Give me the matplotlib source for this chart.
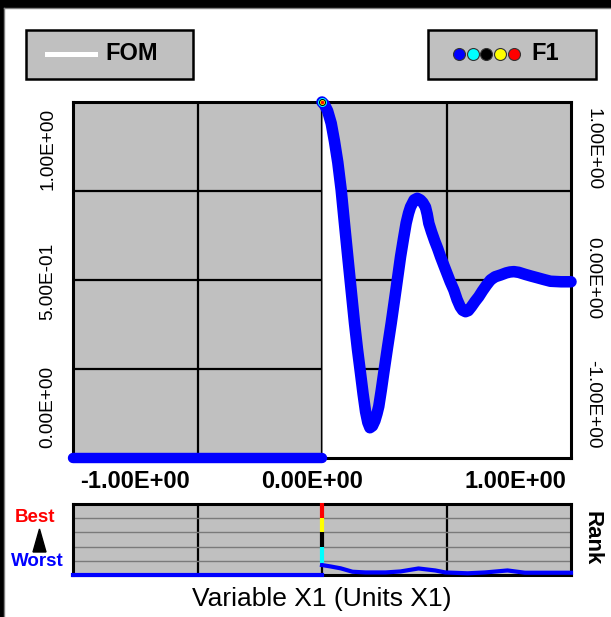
import matplotlib
matplotlib.use("Agg")
import matplotlib.pyplot as plt
from matplotlib.patches import Rectangle, Polygon
from matplotlib.lines import Line2D

plt.rcParams['font.family'] = ['Liberation Sans', 'DejaVu Sans']

# FOM curve (x >= 0)
fom_x = [0.00, 0.02, 0.045, 0.074, 0.10, 0.127, 0.154, 0.18, 0.207, 0.234,
         0.261, 0.285, 0.309, 0.33, 0.35, 0.368, 0.385, 0.405, 0.425, 0.442,
         0.456, 0.476, 0.496, 0.526, 0.556, 0.594, 0.631, 0.654, 0.676, 0.695,
         0.711, 0.74, 0.765, 0.79, 0.81, 0.831, 0.845, 0.858, 0.88, 0.905,
         0.93, 0.952, 0.98, 1.005, 1.03, 1.059, 1.085, 1.11, 1.13, 1.153,
         1.175, 1.20, 1.23, 1.259, 1.29, 1.32, 1.353, 1.39, 1.434, 1.48,
         1.51, 1.541, 1.58, 1.63, 1.68, 1.728, 1.78, 1.835, 1.92, 2.00]
fom_y = [1.00, 0.985, 0.95, 0.88, 0.78, 0.66, 0.506, 0.32, 0.131, -0.056,
         -0.242, -0.39, -0.522, -0.64, -0.74, -0.80, -0.83, -0.82, -0.79, -0.75,
         -0.71, -0.62, -0.522, -0.38, -0.242, -0.055, 0.131, 0.23, 0.32, 0.375,
         0.41, 0.45, 0.459, 0.45, 0.435, 0.41, 0.37, 0.319, 0.27, 0.22,
         0.175, 0.131, 0.08, 0.035, -0.01, -0.056, -0.11, -0.15, -0.17, -0.178,
         -0.172, -0.15, -0.12, -0.094, -0.06, -0.03, 0.0, 0.018, 0.028, 0.04,
         0.045, 0.047, 0.043, 0.032, 0.022, 0.013, 0.003, -0.007, -0.01, -0.01]
# worst region (x < 0)
worst_x = [-2.0, 0.0]
worst_y = [-1.0, -1.0]

# rank curve
rank_x = [0.00, 0.07, 0.15, 0.245, 0.35, 0.51, 0.63, 0.775, 0.91, 0.99,
          1.17, 1.31, 1.49, 1.63, 2.00]
rank_y = [0.70, 0.60, 0.47, 0.23, 0.18, 0.18, 0.25, 0.46, 0.32, 0.18,
          0.12, 0.18, 0.32, 0.16, 0.16]
rank_worst_x = [-2.0, 0.0]
rank_worst_y = [0.0, 0.0]

# rank colour bar at best point
bar_colors = ['cyan', 'black', 'yellow', 'red']
bar_lo = [0.85, 2.0, 3.0, 4.0]
bar_hi = [2.0, 3.0, 4.0, 5.1]
f1_colors = ['blue', 'cyan', 'black', 'yellow', 'red']

left_labels = ['1.00E+00', '5.00E-01', '0.00E+00']
left_pos = [149, 281, 407]
right_labels = ['1.00E+00', '0.00E+00', '-1.00E+00']
right_pos = [149, 278, 404]
bottom_labels = ['-1.00E+00', '0.00E+00', '1.00E+00']
bottom_pos = [135, 312, 515]

W, H = 611, 617
GRAY = '#c0c0c0'


def fx(px):
    return px / W


def fy(py):
    return 1 - py / H


fig = plt.figure(figsize=(W / 100, H / 100), dpi=100)

# outer frame
fig.add_artist(Rectangle((0, fy(7)), 1, 7 / H, color='black', transform=fig.transFigure))
fig.add_artist(Rectangle((0, 0), fx(3), 1, color='black', transform=fig.transFigure))
fig.add_artist(Line2D([fx(4), 1], [fy(8), fy(8)], color='#808080', lw=1, transform=fig.transFigure))
fig.add_artist(Line2D([fx(4), fx(4)], [0, fy(8)], color='#808080', lw=1, transform=fig.transFigure))

# main axes
ax = fig.add_axes([fx(73), fy(458), (571 - 73) / W, (458 - 102) / H])
ax.set_facecolor(GRAY)
ax.set_xlim(-2, 2)
ax.set_ylim(-1, 1)
ax.set_xticks([-1, 0, 1])
ax.set_yticks([-0.5, 0, 0.5])
ax.tick_params(length=0, labelbottom=False, labelleft=False)
ax.set_axisbelow(True)
ax.grid(True, color='black', lw=1.6)
for s in ax.spines.values():
    s.set_linewidth(2.2)
ax.fill_between(fom_x, -1, fom_y, color='white', lw=0, zorder=1)
ax.plot(fom_x, fom_y, color='blue', lw=8.3, solid_capstyle='round',
        solid_joinstyle='round', clip_on=False, zorder=3)
ax.plot(worst_x, worst_y, color='blue', lw=7.5, solid_capstyle='round',
        clip_on=False, zorder=3)
for ms, c in zip([9, 7, 5, 3.5], ['cyan', 'black', 'yellow', 'red']):
    ax.plot(fom_x[0], fom_y[0], 'o', ms=ms * 0.72, color=c, mew=0,
            clip_on=False, zorder=4)

# rank axes
rk = fig.add_axes([fx(73), fy(575), (571 - 73) / W, (575 - 504) / H])
rk.set_facecolor(GRAY)
rk.set_xlim(-2, 2)
rk.set_ylim(0, 5)
rk.set_xticks([-1, 0, 1])
rk.set_yticks([1, 2, 3, 4])
rk.tick_params(length=0, labelbottom=False, labelleft=False)
rk.set_axisbelow(True)
rk.xaxis.grid(True, color='black', lw=1.6)
rk.yaxis.grid(True, color='#7a7a7a', lw=1.0)
for s in rk.spines.values():
    s.set_linewidth(2.2)
rk.plot(rank_worst_x, rank_worst_y, color='blue', lw=3, clip_on=False, zorder=3)
rk.plot(rank_x, rank_y, color='blue', lw=3, clip_on=False, zorder=3)
for c, lo, hi in zip(bar_colors, bar_lo, bar_hi):
    rk.plot([0, 0], [lo, hi], color=c, lw=3, solid_capstyle='butt',
            clip_on=False, zorder=4)

# axis labels
for t, p in zip(left_labels, left_pos):
    fig.text(fx(48), fy(p), t, rotation=90, ha='center', va='center', fontsize=13.7)
for t, p in zip(right_labels, right_pos):
    fig.text(fx(593), fy(p), t, rotation=-90, ha='center', va='center', fontsize=13.7)
for t, p in zip(bottom_labels, bottom_pos):
    fig.text(fx(p), fy(481), t, ha='center', va='center', fontsize=17, fontweight='bold')
fig.text(fx(322), fy(599), 'Variable X1 (Units X1)', ha='center', va='center', fontsize=19)
fig.text(fx(35), fy(518), 'Best', color='red', ha='center', va='center',
         fontsize=13.5, fontweight='bold')
fig.text(fx(37), fy(562), 'Worst', color='blue', ha='center', va='center',
         fontsize=13.5, fontweight='bold')
fig.add_artist(Polygon([[fx(39.5), fy(529)], [fx(33), fy(552)], [fx(46), fy(552)]],
                       closed=True, color='black', transform=fig.transFigure))
fig.text(fx(592), fy(538), 'Rank', rotation=-90, ha='center', va='center',
         fontsize=16, fontweight='bold')

# legend boxes
for x0, x1 in [(26, 193), (428, 596)]:
    fig.add_artist(Rectangle((fx(x0), fy(79)), (x1 - x0) / W, (79 - 30) / H,
                             fc=GRAY, ec='black', lw=1.8, transform=fig.transFigure))
fig.add_artist(Line2D([fx(47), fx(95)], [fy(54), fy(54)], color='white', lw=3.6,
                      transform=fig.transFigure))
fig.text(fx(105), fy(54), 'FOM', ha='left', va='center', fontsize=17, fontweight='bold')
for i, c in enumerate(f1_colors):
    fig.add_artist(Line2D([fx(459 + i * 13.7)], [fy(54)], ls='none', marker='o', ms=8.6,
                          mfc=c, mec='#333333', mew=0.8, transform=fig.transFigure))
fig.text(fx(531), fy(54), 'F1', ha='left', va='center', fontsize=17, fontweight='bold')

fig.savefig('out.png', dpi=100)
